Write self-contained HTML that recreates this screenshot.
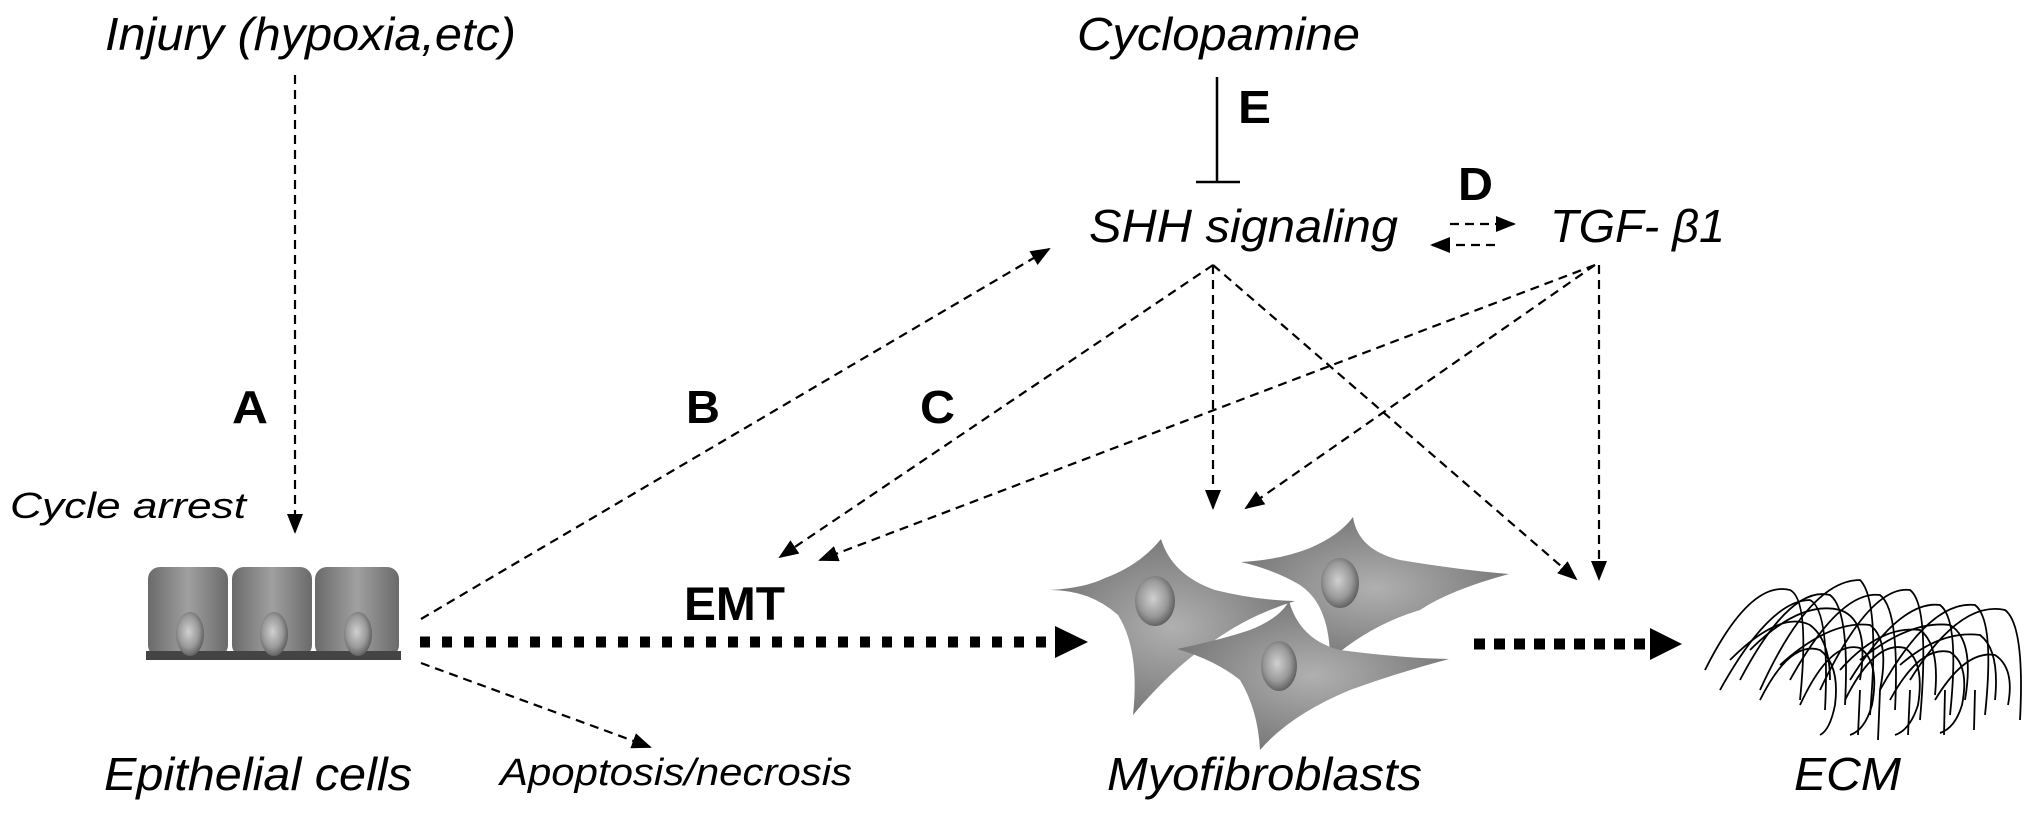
<!DOCTYPE html>
<html><head><meta charset="utf-8"><style>
html,body{margin:0;padding:0;background:#fff;}
svg{display:block;}
text{font-family:"Liberation Sans",Arial,sans-serif;fill:#000;}
.it{font-style:italic;}
.b{font-weight:bold;}
.d{stroke:#000;stroke-width:2.2;fill:none;stroke-dasharray:9 6;}
</style></head><body>
<svg width="2031" height="813" viewBox="0 0 2031 813" xmlns="http://www.w3.org/2000/svg">
<defs>
<marker id="ah" markerWidth="20" markerHeight="16" refX="18" refY="8" orient="auto" markerUnits="userSpaceOnUse">
<path d="M0,0 L20,8 L0,16 Z" fill="#000"/></marker>
<linearGradient id="cg" x1="0" y1="0" x2="1" y2="0">
<stop offset="0" stop-color="#6a6a6a"/><stop offset="0.5" stop-color="#a0a0a0"/><stop offset="1" stop-color="#6a6a6a"/></linearGradient>
<radialGradient id="fg" cx="0.5" cy="0.5" r="0.6">
<stop offset="0" stop-color="#b0b0b0"/><stop offset="1" stop-color="#707070"/></radialGradient>
<radialGradient id="ng" cx="0.45" cy="0.45" r="0.6">
<stop offset="0" stop-color="#d0d0d0"/><stop offset="0.6" stop-color="#999"/><stop offset="1" stop-color="#555"/></radialGradient>
</defs>

<text x="105" y="50" class="it" font-size="46" textLength="411" lengthAdjust="spacingAndGlyphs">Injury (hypoxia,etc)</text>
<text x="1077" y="50" class="it" font-size="46" textLength="283" lengthAdjust="spacingAndGlyphs">Cyclopamine</text>
<text x="1089" y="242" class="it" font-size="46" textLength="309" lengthAdjust="spacingAndGlyphs">SHH signaling</text>
<text x="1550" y="242" class="it" font-size="46" textLength="175" lengthAdjust="spacingAndGlyphs">TGF- β1</text>
<text x="10" y="518" class="it" font-size="36" textLength="236" lengthAdjust="spacingAndGlyphs">Cycle arrest</text>
<text x="104" y="790" class="it" font-size="46" textLength="308" lengthAdjust="spacingAndGlyphs">Epithelial cells</text>
<text x="500" y="785" class="it" font-size="38" textLength="352" lengthAdjust="spacingAndGlyphs">Apoptosis/necrosis</text>
<text x="1107" y="790" class="it" font-size="46" textLength="315" lengthAdjust="spacingAndGlyphs">Myofibroblasts</text>
<text x="1794" y="790" class="it" font-size="46" textLength="107" lengthAdjust="spacingAndGlyphs">ECM</text>
<text x="232" y="423" class="b" font-size="46" textLength="36" lengthAdjust="spacingAndGlyphs">A</text>
<text x="686" y="423" class="b" font-size="46" textLength="34" lengthAdjust="spacingAndGlyphs">B</text>
<text x="920" y="423" class="b" font-size="46" textLength="35" lengthAdjust="spacingAndGlyphs">C</text>
<text x="1238" y="123" class="b" font-size="46" textLength="33" lengthAdjust="spacingAndGlyphs">E</text>
<text x="1458" y="200" class="b" font-size="46" textLength="35" lengthAdjust="spacingAndGlyphs">D</text>
<text x="684" y="620" class="b" font-size="47" textLength="101" lengthAdjust="spacingAndGlyphs">EMT</text>

<line x1="1217" y1="77" x2="1217" y2="182" stroke="#000" stroke-width="2.5"/>
<line x1="1196" y1="182" x2="1240" y2="182" stroke="#000" stroke-width="2.5"/>

<line class="d" x1="295" y1="75" x2="295" y2="532" marker-end="url(#ah)"/>
<line class="d" x1="421" y1="619" x2="1049" y2="249" marker-end="url(#ah)"/>
<line class="d" x1="421" y1="663" x2="650" y2="747" marker-end="url(#ah)"/>
<line class="d" x1="1450" y1="224" x2="1514" y2="224" marker-end="url(#ah)"/>
<line class="d" x1="1495" y1="245" x2="1432" y2="245" marker-end="url(#ah)"/>
<line class="d" x1="1213" y1="265" x2="780" y2="557" marker-end="url(#ah)"/>
<line class="d" x1="1213" y1="265" x2="1213" y2="508" marker-end="url(#ah)"/>
<line class="d" x1="1213" y1="265" x2="1576" y2="579" marker-end="url(#ah)"/>
<line class="d" x1="1595" y1="265" x2="820" y2="560" marker-end="url(#ah)"/>
<line class="d" x1="1595" y1="265" x2="1246" y2="508" marker-end="url(#ah)"/>
<line class="d" x1="1599" y1="265" x2="1599" y2="579" marker-end="url(#ah)"/>

<line x1="420" y1="642" x2="1055" y2="642" stroke="#000" stroke-width="11" stroke-dasharray="10 12"/>
<path d="M1055,626 L1088,642 L1055,658 Z" fill="#000"/>
<line x1="1474" y1="644" x2="1648" y2="644" stroke="#000" stroke-width="11" stroke-dasharray="11 9"/>
<path d="M1650,628 L1682,644 L1650,660 Z" fill="#000"/>

<g>
<rect x="148" y="567" width="80" height="90" rx="12" fill="url(#cg)"/>
<rect x="232" y="567" width="80" height="90" rx="12" fill="url(#cg)"/>
<rect x="315" y="567" width="84" height="90" rx="12" fill="url(#cg)"/>
<rect x="146" y="651" width="255" height="9" fill="#444"/>
<ellipse cx="190" cy="634" rx="14" ry="22" fill="url(#ng)"/>
<ellipse cx="274" cy="634" rx="14" ry="22" fill="url(#ng)"/>
<ellipse cx="358" cy="634" rx="14" ry="22" fill="url(#ng)"/>
</g>

<g fill="url(#fg)">
<path d="M1161,539 Q1172,575 1215,590 Q1255,600 1295,601 Q1250,615 1215,640 Q1175,665 1133,715 Q1140,650 1118,615 Q1090,590 1050,590 Q1085,588 1105,578 Q1140,565 1161,539 Z"/>
<ellipse cx="1155" cy="601" rx="20" ry="25" fill="url(#ng)"/>
<path d="M1353,517 Q1358,550 1400,560 Q1460,570 1509,574 Q1450,590 1420,610 Q1370,625 1330,660 Q1330,605 1300,585 Q1275,570 1241,562 Q1280,560 1310,548 Q1340,535 1353,517 Z"/>
<ellipse cx="1340" cy="583" rx="19" ry="25" fill="url(#ng)"/>
<path d="M1289,601 Q1300,640 1340,650 Q1400,658 1449,659 Q1400,672 1350,690 Q1290,715 1260,750 Q1258,710 1240,680 Q1215,660 1177,649 Q1220,640 1250,630 Q1280,618 1289,601 Z"/>
<ellipse cx="1279" cy="666" rx="18" ry="25" fill="url(#ng)"/>
</g>

<g fill="none" stroke="#000" stroke-width="1.8">
<path d="M1705,670 Q1750,580 1790,590 Q1810,600 1800,700"/>
<path d="M1720,690 Q1770,600 1810,600 Q1830,610 1825,710"/>
<path d="M1740,680 Q1790,585 1830,595 Q1850,610 1845,705"/>
<path d="M1760,690 Q1810,580 1860,580 Q1880,600 1870,715"/>
<path d="M1790,680 Q1840,590 1880,595 Q1900,610 1895,710"/>
<path d="M1820,690 Q1870,585 1910,590 Q1930,605 1920,720"/>
<path d="M1850,680 Q1900,600 1940,605 Q1960,620 1950,715"/>
<path d="M1880,690 Q1930,600 1975,605 Q1995,620 1985,715"/>
<path d="M1910,680 Q1960,600 2005,610 Q2025,625 2020,720"/>
<path d="M1730,660 Q1780,610 1810,625 Q1830,640 1830,680"/>
<path d="M1780,665 Q1830,620 1870,625 Q1890,640 1880,690"/>
<path d="M1840,670 Q1880,625 1920,630 Q1940,645 1935,695"/>
<path d="M1900,665 Q1940,630 1980,635 Q2000,650 1995,700"/>
<path d="M1750,650 Q1800,600 1840,610 Q1870,620 1860,680"/>
<path d="M1860,660 Q1910,620 1950,625 Q1975,640 1965,700"/>
<path d="M1760,700 Q1790,640 1820,650 Q1840,665 1835,705 Q1830,730 1820,735"/>
<path d="M1800,705 Q1830,640 1860,648 Q1880,662 1872,705 Q1865,730 1850,735"/>
<path d="M1845,700 Q1875,640 1905,648 Q1925,662 1918,705 Q1910,730 1895,735"/>
<path d="M1890,700 Q1920,645 1950,652 Q1970,665 1962,705 Q1955,728 1940,733"/>
<path d="M1935,700 Q1965,650 1995,655 Q2015,668 2008,705"/>
<path d="M1880,690 L1878,740 M1910,690 L1908,735 M1945,690 L1944,735 M1975,690 L1974,730 M1860,690 L1858,735"/>
</g>
</svg>
</body></html>
